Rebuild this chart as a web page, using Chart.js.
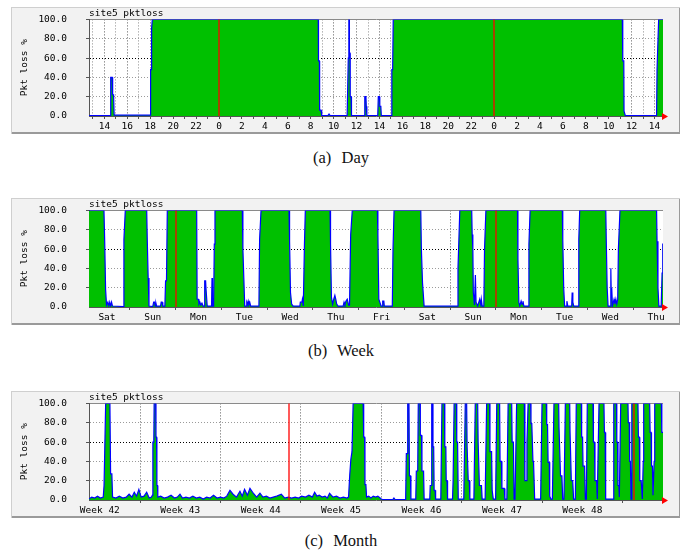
<!DOCTYPE html>
<html>
<head>
<meta charset="utf-8">
<script src="https://cdn.jsdelivr.net/npm/chart.js@4.4.1/dist/chart.umd.min.js"></script>
<style>
  html, body { margin: 0; padding: 0; background: #fff; }
  body { width: 688px; height: 559px; position: relative; overflow: hidden; }
  .panel { position: absolute; left: 11px; width: 669px; height: 127px; background: #f2f2f2;
           box-shadow: inset 1px 1px 0 #cfcfcf, inset -1px -2px 0 #9a9a9a; }
  .panel canvas { position: absolute; left: 0; top: 0; }
  .caption { position: absolute; left: 0; width: 682px; text-align: center;
             font-family: "Liberation Serif", "DejaVu Serif", serif; font-size: 16.5px; color: #111;
             word-spacing: 6px; }
</style>
</head>
<body>
<div class="panel" style="top:7px"><canvas id="dayChart" width="669" height="127"></canvas></div>
<div class="caption" style="top:148px">(a) Day</div>
<div class="panel" style="top:198px"><canvas id="weekChart" width="669" height="127"></canvas></div>
<div class="caption" style="top:341px">(b) Week</div>
<div class="panel" style="top:391px"><canvas id="monthChart" width="669" height="127"></canvas></div>
<div class="caption" style="top:531px">(c) Month</div>

<script>
// ---- Day: hours since midnight of the first day, packet loss in % ----
const dayHours = [
  12.66, 14.50, 14.55, 14.68, 14.72, 14.80, 14.85, 17.98, 18.03, 18.08,
  18.12, 18.18, 32.66, 32.68, 32.76, 32.78, 32.90, 32.96, 33.50, 33.60,
  33.70, 35.18, 35.28, 35.33, 35.36, 35.38, 35.43, 35.45, 35.52, 35.56,
  36.68, 36.72, 36.82, 36.85, 36.90, 37.85, 37.90, 38.00, 38.03, 38.12,
  38.16, 39.05, 39.08, 39.15, 39.20, 59.19, 59.23, 59.32, 59.34, 59.42,
  59.45, 62.18, 62.22, 62.30, 62.36, 62.74
];
const dayLoss = [
  0.5, 0.5, 40, 40, 22, 22, 1, 1, 48, 48,
  91, 100, 100, 57, 57, 6, 6, 0.5, 0.5, 2,
  0.5, 0.5, 60, 100, 100, 65, 65, 20, 20, 0.5,
  0.5, 20, 20, 10, 0.5, 0.5, 20, 20, 10, 10,
  0.5, 0.5, 48, 48, 100, 100, 57, 57, 5, 5,
  0.5, 0.5, 48, 48, 100, 100
];
const dayRules = [24, 48];            // midnights
const dayRange = [12.656, 62.74];

// ---- Week: days since Saturday 00:00 ----
const weekDays = [
  0.107, 0.434, 0.45, 0.47, 0.49, 0.52, 0.54, 0.56, 0.58, 0.60, 0.62, 0.857, 0.87, 0.90,
  1.368, 1.38, 1.40, 1.418, 1.50, 1.52, 1.54, 1.555, 1.57, 1.585, 1.67, 1.685, 1.705, 1.72, 1.765, 1.78, 1.80, 1.818,
  2.46, 2.47, 2.50, 2.51, 2.53, 2.55, 2.575, 2.60, 2.625, 2.635, 2.655, 2.665, 2.68, 2.69, 2.785, 2.795, 2.805, 2.83, 2.845, 2.86,
  3.457, 3.47, 3.49, 3.51, 3.545, 3.555, 3.57, 3.585, 3.60, 3.62, 3.64, 3.82, 3.835, 3.866,
  4.478, 4.49, 4.51, 4.535, 4.57, 4.715, 4.725, 4.76, 4.77, 4.79, 4.80, 4.815, 4.834,
  5.374, 5.385, 5.405, 5.43, 5.455, 5.48, 5.50, 5.52, 5.55, 5.66, 5.68, 5.70, 5.72, 5.75, 5.78, 5.80, 5.825, 5.86,
  6.408, 6.42, 6.44, 6.49, 6.515, 6.525, 6.55, 6.56, 6.735, 6.75, 6.773,
  7.357, 7.37, 7.395, 7.43, 8.155, 8.17, 8.19, 8.21,
  8.47, 8.48, 8.495, 8.505, 8.53, 8.55, 8.565, 8.60, 8.645, 8.67, 8.68, 8.70, 8.735, 8.75, 8.78,
  9.47, 9.48, 9.50, 9.52, 9.55, 9.57, 9.59, 9.61, 9.705, 9.72, 9.746,
  10.45, 10.46, 10.48, 10.50, 10.54, 10.55, 10.57, 10.655, 10.665, 10.68, 10.70, 10.795, 10.81, 10.83,
  11.40, 11.41, 11.43, 11.45, 11.50, 11.51, 11.52, 11.53, 11.545, 11.58, 11.60, 11.62, 11.64, 11.66, 11.675, 11.71,
  12.51, 12.52, 12.54, 12.56, 12.61, 12.63, 12.645, 12.65
];
const weekLoss = [
  100, 100, 68, 18, 2, 5, 1, 5, 1, 5, 1, 0.5, 70, 100,
  100, 70, 30, 1, 0.5, 5, 5, 1, 4, 1, 1, 5, 5, 1, 1, 27, 27, 100,
  100, 8, 8, 3, 5, 2, 4, 1, 1, 27, 27, 18, 18, 1, 1, 30, 1, 1, 65, 100,
  100, 60, 30, 1, 1, 5, 3, 6, 2, 5, 1, 1, 70, 100,
  100, 68, 15, 3, 1, 1, 5, 5, 8, 1, 1, 65, 100,
  100, 65, 10, 3, 8, 12, 8, 3, 1, 1, 5, 2, 6, 8, 2, 2, 75, 100,
  100, 75, 8, 1, 1, 6, 6, 1, 1, 60, 100,
  100, 60, 25, 1, 1, 40, 70, 100,
  100, 75, 60, 15, 2, 33, 5, 1, 8, 2, 8, 1, 1, 60, 100,
  100, 50, 5, 1, 6, 3, 6, 1, 1, 65, 100,
  100, 70, 20, 1, 1, 6, 1, 1, 15, 5, 1, 1, 70, 100,
  100, 70, 20, 1, 1, 40, 10, 20, 1, 8, 3, 8, 3, 8, 60, 100,
  100, 68, 20, 1, 1, 35, 65, 65
];
const weekdayNames = ['Sat', 'Sun', 'Mon', 'Tue', 'Wed', 'Thu', 'Fri', 'Sat', 'Sun', 'Mon', 'Tue', 'Wed', 'Thu'];
const weekRules = [2, 9];             // Monday 00:00
const weekRange = [0.107, 12.65];

// ---- Month: days since Monday 00:00 of week 43 ----
const monthDays = [
  -4.44, -4.2, -3.95, -3.7, -3.45, -3.2,
  -3.13, -3.05, -2.99, -2.62, -2.56, -2.45, -2.39,
  -2.1, -1.8, -1.5, -1.2, -0.95, -0.7, -0.5, -0.3, -0.1, 0.1, 0.35, 0.58, 0.8,
  1.0, 1.08, 1.12, 1.2, 1.23, 1.36, 1.39, 1.44, 1.47, 1.52, 1.55,
  1.8, 2.1, 2.4, 2.7, 3.0, 3.25, 3.48, 3.7, 4.0, 4.3,
  4.6, 4.9, 5.2, 5.5, 5.8, 6.1, 6.4, 6.7, 7.0, 7.3,
  7.55, 7.83, 8.1, 8.4, 8.7, 8.9, 9.1, 9.35, 9.57, 9.86,
  10.15, 10.44, 10.7, 11.0, 11.3, 11.6, 11.9, 12.3, 12.6, 12.9,
  13.2, 13.5, 13.8, 14.07, 14.4, 14.7, 15.0, 15.2, 15.4, 15.6,
  15.85, 16.1, 16.3, 16.5, 16.8, 17.1, 17.4, 17.7, 18.0,
  18.15, 18.25, 18.35, 18.45, 18.55, 19.42, 19.47, 19.55, 19.58, 19.66, 19.72,
  19.9, 20.1, 20.3, 20.5, 20.7, 20.9, 21.0,
  21.1, 22.0, 22.1, 22.2, 23.12,
  23.18, 23.25, 23.3, 23.41, 23.45, 23.53, 23.58,
  24.0, 24.05, 24.17, 24.22, 24.37, 24.4, 24.5, 24.54, 24.68, 24.73,
  25.22, 25.26, 25.35, 25.39, 25.47, 25.5, 25.56, 25.6, 25.68, 25.73,
  26.18, 26.28, 26.49, 26.53, 26.62, 26.65, 26.72, 26.77,
  27.2, 27.25, 27.3, 27.34, 27.53, 27.57, 27.64, 27.7,
  28.18, 28.31, 28.43, 28.47, 28.53, 28.57, 28.66, 28.71,
  29.06, 29.18, 29.39, 29.43, 29.5, 29.54, 29.72, 29.78,
  30.04, 30.17, 30.43, 30.46, 30.6, 30.65, 30.7, 30.75,
  30.95, 31.05, 31.3, 31.34, 31.45, 31.5, 31.7, 31.76,
  31.93, 32.04, 32.35, 32.39, 32.5, 32.56,
  32.64, 32.78, 33.45, 33.5, 33.62, 33.68, 33.78, 34.0, 34.03, 34.1, 34.2, 34.25, 34.35,
  34.87, 34.99, 35.36, 35.4, 35.47, 35.52, 35.62, 35.66, 35.76,
  35.89, 36.03, 36.44, 36.47, 36.55, 36.6, 36.72, 36.79,
  36.9, 37.02, 37.4, 37.43, 37.5, 37.54, 37.66, 37.74,
  37.89, 37.97, 38.41, 38.44, 38.52, 38.56, 38.7, 38.76,
  38.85, 38.93, 39.43, 39.46, 39.55, 39.6, 39.74, 39.8,
  39.86, 39.95, 40.38, 40.42, 40.48, 40.53, 41.17,
  41.22, 41.25, 41.46, 41.5, 41.56, 41.6, 41.68, 41.72,
  41.75, 41.84, 42.47, 42.5, 42.58, 42.62, 42.68, 42.74,
  42.79, 42.82, 43.34, 43.38, 43.46, 43.5, 43.62, 43.72,
  43.8, 43.84, 44.36, 44.4, 44.48, 44.52, 44.6, 44.65,
  44.75, 44.8, 45.37, 45.42, 45.52
];
const monthLoss = [
  1, 3, 2, 4, 2, 3,
  15, 15, 100, 100, 27, 27, 3,
  2, 4, 2, 3, 6, 3, 8, 4, 11, 3, 4, 8, 2,
  3, 5, 60, 60, 100, 100, 65, 65, 15, 15, 3,
  4, 2, 3, 5, 2, 3, 6, 2, 3, 2,
  4, 2, 3, 1, 3, 2, 5, 2, 3, 2,
  4, 10, 6, 3, 9, 4, 11, 5, 12, 7,
  3, 7, 3, 4, 2, 3, 4, 6, 2, 3,
  2, 3, 2, 4, 3, 5, 3, 8, 4, 5,
  3, 4, 2, 7, 3, 4, 2, 3, 2,
  3, 25, 42, 50, 100, 100, 65, 65, 16, 16, 3,
  4, 2, 4, 3, 4, 2, 1,
  0.5, 0.5, 2, 0.5, 0.5,
  48, 48, 100, 100, 25, 25, 1,
  1, 30, 30, 100, 100, 67, 67, 30, 30, 1,
  1, 15, 15, 100, 100, 55, 55, 10, 10, 1,
  1, 100, 100, 55, 55, 20, 20, 1,
  1, 20, 20, 100, 100, 60, 60, 1,
  1, 100, 100, 55, 55, 20, 20, 1,
  1, 100, 100, 60, 60, 15, 15, 1,
  1, 100, 100, 50, 50, 10, 10, 1,
  1, 100, 100, 40, 40, 12, 12, 1,
  1, 100, 100, 60, 60, 1,
  1, 100, 100, 20, 20, 60, 100, 100, 79, 79, 40, 40, 1,
  1, 100, 100, 78, 78, 39, 39, 4, 1,
  1, 100, 100, 75, 75, 25, 25, 1,
  1, 100, 100, 70, 70, 20, 20, 1,
  1, 100, 100, 65, 65, 35, 35, 1,
  1, 100, 100, 60, 60, 20, 20, 1,
  1, 100, 100, 70, 70, 1, 1,
  40, 100, 100, 60, 60, 15, 15, 3,
  3, 100, 100, 80, 80, 40, 40, 1,
  50, 100, 100, 65, 65, 20, 20, 1,
  40, 100, 100, 70, 70, 35, 35, 5,
  40, 100, 100, 70, 70
];
const firstWeekNo = 42;               // week left of day 0
const monthRules = [13, 43];          // first day of the month
const monthRange = [-4.44, 45.52];

const lossTicks = { min: 0, max: 100, step: 20 };

Chart.defaults.font.family = '"DejaVu Sans Mono", monospace';
Chart.defaults.font.size = 9.5;
Chart.defaults.color = '#000';

const CLEAR = 'rgba(0,0,0,0)';

// white canvas behind the graph, red rules and the arrow at the end of the time axis
const rrdDecor = {
  id: 'rrdDecor',
  beforeDraw(chart) {
    const { ctx, chartArea: a } = chart;
    ctx.save();
    ctx.fillStyle = '#ffffff';
    ctx.fillRect(a.left, a.top, a.right - a.left, a.bottom - a.top);
    ctx.restore();
  },
  afterDraw(chart, args, opts) {
    const { ctx, chartArea: a } = chart;
    const x = chart.scales.x;
    const rules = Array.from(opts.rules || []);
    ctx.save();
    ctx.setLineDash([]);
    ctx.strokeStyle = opts.ruleColor || '#ff0000';
    ctx.lineWidth = 2;
    for (const v of rules) {
      const px = Math.round(x.getPixelForValue(v));
      ctx.beginPath();
      ctx.moveTo(px, a.top);
      ctx.lineTo(px, a.bottom);
      ctx.stroke();
    }
    ctx.fillStyle = '#ff0000';
    ctx.beginPath();
    ctx.moveTo(a.right - 1, a.bottom - 3);
    ctx.lineTo(a.right + 5, a.bottom + 0.5);
    ctx.lineTo(a.right - 1, a.bottom + 4);
    ctx.closePath();
    ctx.fill();
    ctx.restore();
  }
};

function lossGridColor(v) {
  if (v === 60) return '#000000';
  if (v === 100) return '#8a8a8a';
  if (v === 0) return CLEAR;
  return '#9a9a9a';
}

function makeChart(id, xs, ys, axis, rules) {
  const points = xs.map((x, i) => ({ x: x, y: ys[i] }));
  return new Chart(document.getElementById(id), {
    type: 'line',
    data: {
      datasets: [{
        data: points,
        fill: 'origin',
        backgroundColor: '#00c000',
        borderColor: '#0000ff',
        borderWidth: 1.2,
        pointRadius: 0,
        tension: 0
      }]
    },
    plugins: [rrdDecor],
    options: {
      responsive: false,
      animation: false,
      events: [],
      layout: { padding: { left: 0, right: 17, top: 0, bottom: 0 } },
      plugins: {
        legend: { display: false },
        tooltip: { enabled: false },
        title: {
          display: true, text: 'site5 pktloss', align: 'start', fullSize: false,
          color: '#000', font: { size: 9.5, weight: 'normal' }, padding: { top: 1, bottom: 0 }
        },
        rrdDecor: { rules: rules, ruleColor: 'rgba(255,0,0,0.65)' }
      },
      scales: {
        x: {
          type: 'linear', min: axis.min, max: axis.max, z: 1,
          afterFit: s => { s.height = 18; s.paddingLeft = 0; s.paddingRight = 0; },
          ticks: {
            stepSize: axis.step, autoSkip: false, maxRotation: 0, includeBounds: false,
            padding: 2, callback: axis.label
          },
          grid: {
            color: c => axis.grid(c.tick.value),
            tickColor: c => axis.grid(c.tick.value) === CLEAR ? CLEAR : '#555',
            tickLength: 3, lineWidth: 1
          },
          border: { color: '#555', width: 1, dash: [1, 2] }
        },
        y: {
          min: lossTicks.min, max: lossTicks.max, z: 1,
          afterFit: s => { s.width = 78; s.paddingTop = 0; s.paddingBottom = 0; },
          ticks: { stepSize: lossTicks.step, padding: 19, callback: v => v.toFixed(1) },
          grid: {
            color: c => lossGridColor(c.tick.value),
            tickColor: c => c.tick.value === 0 ? CLEAR : '#555',
            tickLength: 3, lineWidth: 1
          },
          border: {
            color: '#555', width: 1,
            dash: c => (c.tick && (c.tick.value === 100 || c.tick.value === 0)) ? [] : [1, 2]
          },
          title: { display: true, text: 'Pkt loss %', color: '#000', font: { size: 9.5 }, padding: { top: 8.3, bottom: 0 } }
        }
      }
    }
  });
}

// Day: a tick per hour, labels on even hours
makeChart('dayChart', dayHours, dayLoss, {
  min: dayRange[0], max: dayRange[1], step: 1,
  label: v => (Math.round(v) % 2 === 0 ? String(Math.round(v) % 24) : ''),
  grid: v => (Math.round(v) % 2 === 0 ? '#5a5a5a' : '#8a8a8a')
}, dayRules);

// Week: grid at midnight, weekday names at noon
makeChart('weekChart', weekDays, weekLoss, {
  min: weekRange[0], max: weekRange[1], step: 0.5,
  label: v => (Math.abs(v - Math.floor(v) - 0.5) < 1e-6 ? weekdayNames[Math.floor(v)] : ''),
  grid: v => (Math.abs(v - Math.round(v)) < 1e-6 ? '#5a5a5a' : CLEAR)
}, weekRules);

// Month: grid at week starts, week numbers mid-week
makeChart('monthChart', monthDays, monthLoss, {
  min: monthRange[0], max: monthRange[1], step: 3.5,
  label: v => {
    const k = Math.round(v / 3.5);
    if (k % 2 === 0 || v > 42) return '';
    return 'Week ' + (firstWeekNo + 1 + Math.floor(v / 7));
  },
  grid: v => (Math.round(v / 3.5) % 2 === 0 ? '#5a5a5a' : CLEAR)
}, monthRules);
</script>
</body>
</html>
